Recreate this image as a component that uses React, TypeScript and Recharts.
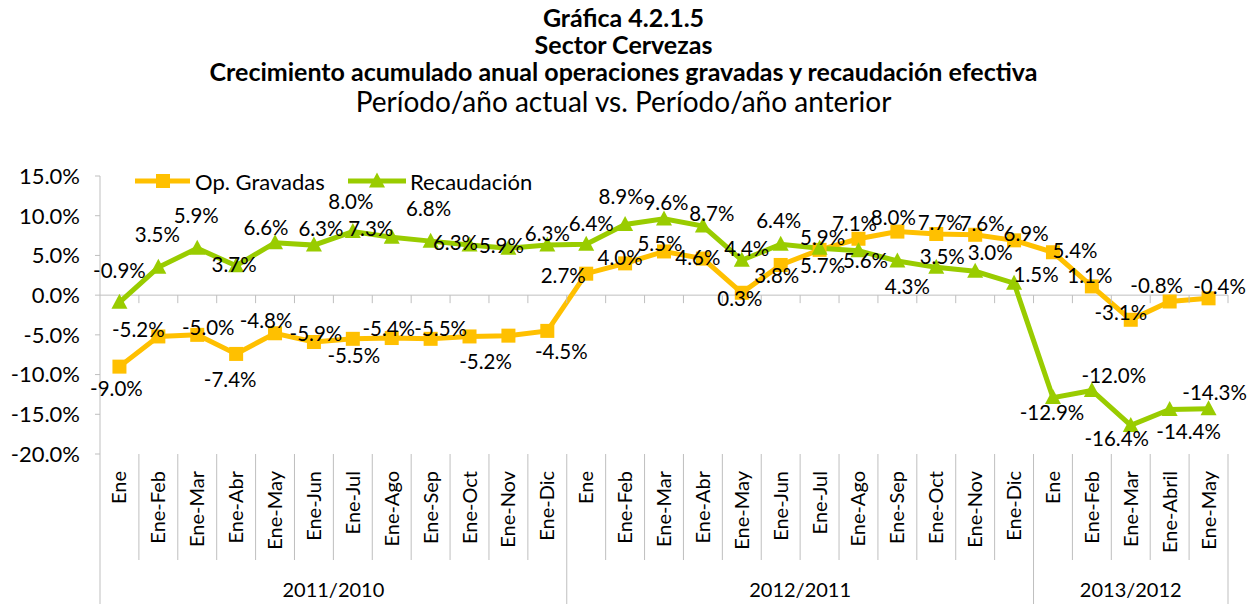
import React from 'react';
import { LineChart, Line, XAxis, YAxis, ReferenceLine, LabelList } from 'recharts';

// ---------- data ----------
const categories = [
  'Ene', 'Ene-Feb', 'Ene-Mar', 'Ene-Abr', 'Ene-May', 'Ene-Jun', 'Ene-Jul', 'Ene-Ago', 'Ene-Sep', 'Ene-Oct', 'Ene-Nov', 'Ene-Dic',
  'Ene', 'Ene-Feb', 'Ene-Mar', 'Ene-Abr', 'Ene-May', 'Ene-Jun', 'Ene-Jul', 'Ene-Ago', 'Ene-Sep', 'Ene-Oct', 'Ene-Nov', 'Ene-Dic',
  'Ene', 'Ene-Feb', 'Ene-Mar', 'Ene-Abril', 'Ene-May',
];
const groupLabels = ['2011/2010', '2012/2011', '2013/2012'];
const groupSizes = [12, 12, 5];
const opGravadas = [
  -9.0, -5.2, -5.0, -7.4, -4.8, -5.9, -5.5, -5.4, -5.5, -5.2, -5.1, -4.5,
  2.7, 4.0, 5.5, 4.6, 0.3, 3.8, 5.7, 7.1, 8.0, 7.7, 7.6, 6.9,
  5.4, 1.1, -3.1, -0.8, -0.4,
];
const recaudacion = [
  -0.9, 3.5, 5.9, 3.7, 6.6, 6.3, 8.0, 7.3, 6.8, 6.3, 5.9, 6.3,
  6.4, 8.9, 9.6, 8.7, 4.4, 6.4, 5.9, 5.6, 4.3, 3.5, 3.0, 1.5,
  -12.9, -12.0, -16.4, -14.4, -14.3,
];
// which data labels are shown (Ene-Nov 2011 of Op. Gravadas has none)
const opLabelShown = opGravadas.map((_, i) => i !== 10);
const yTicks = [-20, -15, -10, -5, 0, 5, 10, 15];
const seriesNames = ['Op. Gravadas', 'Recaudación'];

// ---------- styling / layout ----------
const W = 1247;
const H = 604;
const PLOT_LEFT = 100;
const PLOT_RIGHT = 1228;
const PLOT_TOP = 176;
const PLOT_BOTTOM = 454;
const Y_MIN = -20;
const Y_MAX = 15;
const HALF = (PLOT_RIGHT - PLOT_LEFT) / categories.length / 2;
const ZERO_Y = PLOT_TOP + ((Y_MAX - 0) / (Y_MAX - Y_MIN)) * (PLOT_BOTTOM - PLOT_TOP);
const ORANGE = '#FFC000';
const GREEN = '#99CC00';
const AXIS_GRAY = '#BFBFBF';
const FONT = 'Lato, "Open Sans", sans-serif';
const TICK_FS = 22;
const CAT_FS = 20;
const LEGEND_FS = 22;
const LABEL_FS = 20.5;
const TITLE_FS = 25;
const SUBTITLE_FS = 28;

// label offsets (dx, dy) relative to each point, mimicking manual label placement
const opLabelOffsets: [number, number][] = [
  [-3, 21], [-20, -7], [11, -8], [-6, 25], [-9, -13], [2, -9], [1, 16], [-3, -10], [10, -11], [16, 25], [0, 0], [14, 20],
  [-23, 1], [-5, -6], [-4, -8], [-5, -2], [-2, 5], [-4, 10], [3, 15], [-4, -16], [-4, -15], [4, -12], [7, -12], [12, -7],
  [22, -2], [-2, -11], [-10, -8], [-13, -16], [11, -12],
];
const recLabelOffsets: [number, number][] = [
  [0, -32], [-1, -33], [-1, -33], [-2, -2], [-9, -16], [7, -17], [-2, -31], [-21, -9], [-2, -33], [-14, -3], [-7, -3], [0, -12],
  [5, -21], [-4, -28], [2, -17], [9, -13], [5, -12], [-2, -24], [3, -11], [7, 9], [10, 25], [6, -11], [15, -19], [22, -9],
  [-1, 14], [22, -15], [-14, 13], [19, 21], [6, -17],
];

const data = categories.map((c, i) => ({
  idx: i,
  cat: c,
  op: opGravadas[i],
  rec: recaudacion[i],
}));

const groupStarts: number[] = [];
const groupEnds: number[] = [];
{
  let acc = 0;
  groupSizes.forEach((s) => {
    groupStarts.push(acc);
    acc += s;
    groupEnds.push(acc - 1);
  });
}

const fmt = (v: number) => `${v.toFixed(1)}%`;

const SquareDot = (props: any) => {
  const { cx, cy, index } = props;
  if (cx == null || cy == null) return <g key={`sq-${index}`} />;
  const s = 14;
  return <rect key={`sq-${index}`} x={cx - s / 2} y={cy - s / 2} width={s} height={s} fill={ORANGE} />;
};

const TriangleDot = (props: any) => {
  const { cx, cy, index } = props;
  if (cx == null || cy == null) return <g key={`tr-${index}`} />;
  const w = 16;
  const h = 15;
  return (
    <polygon
      key={`tr-${index}`}
      points={`${cx},${cy - h / 2 - 1} ${cx - w / 2},${cy + h / 2 - 1} ${cx + w / 2},${cy + h / 2 - 1}`}
      fill={GREEN}
    />
  );
};

const makeLabel = (offsets: [number, number][], shown?: boolean[]) => (props: any) => {
  const { x, y, value, index } = props;
  if (x == null || y == null || value == null) return null;
  if (shown && !shown[index]) return null;
  const [dx, dy] = offsets[index] || [0, -20];
  return (
    <text
      x={x + dx}
      y={y + dy}
      textAnchor="middle"
      dominantBaseline="central"
      fontFamily={FONT}
      fontSize={LABEL_FS}
      fill="#000"
    >
      {fmt(Number(value))}
    </text>
  );
};

const CategoryTick = (props: any) => {
  const { x, payload } = props;
  const i = Number(payload.value);
  const label = categories[i];
  const gIdx = groupEnds.indexOf(i);
  const isGroupEnd = gIdx >= 0;
  const sIdx = groupStarts.indexOf(i);
  const els: React.ReactNode[] = [];
  els.push(
    <text
      key="t"
      transform={`translate(${x},${PLOT_BOTTOM + 17}) rotate(-90)`}
      textAnchor="end"
      dy="0.35em"
      fontFamily={FONT}
      fontSize={CAT_FS}
      fill="#000"
    >
      {label}
    </text>
  );
  // separator on the right boundary
  els.push(
    <line
      key="sep"
      x1={x + HALF}
      x2={x + HALF}
      y1={PLOT_BOTTOM}
      y2={isGroupEnd ? H : PLOT_BOTTOM + 106}
      stroke={AXIS_GRAY}
      strokeWidth={1}
    />
  );
  // tick mark on the zero line
  els.push(
    <line key="zt" x1={x + HALF} x2={x + HALF} y1={ZERO_Y} y2={ZERO_Y + 8} stroke={AXIS_GRAY} strokeWidth={1} />
  );
  if (i === 0) {
    els.push(<line key="left" x1={x - HALF} x2={x - HALF} y1={PLOT_BOTTOM} y2={H} stroke={AXIS_GRAY} strokeWidth={1} />);
  }
  if (sIdx >= 0) {
    const size = groupSizes[sIdx];
    const cx = x - HALF + size * HALF;
    els.push(
      <text
        key="g"
        x={cx}
        y={PLOT_BOTTOM + 135}
        textAnchor="middle"
        dominantBaseline="central"
        fontFamily={FONT}
        fontSize={CAT_FS}
        fill="#000"
      >
        {groupLabels[sIdx]}
      </text>
    );
  }
  return <g>{els}</g>;
};

const Overlay = () => (
  <svg
    width={W}
    height={H}
    style={{ position: 'absolute', left: 0, top: 0, pointerEvents: 'none' }}
  >
    <g fontFamily={FONT} fill="#000" textAnchor="middle">
      <text x={W / 2} y={17} dominantBaseline="central" fontSize={TITLE_FS} fontWeight="bold">
        Gráfica 4.2.1.5
      </text>
      <text x={W / 2} y={44} dominantBaseline="central" fontSize={TITLE_FS} fontWeight="bold">
        Sector Cervezas
      </text>
      <text x={W / 2} y={71} dominantBaseline="central" fontSize={TITLE_FS} fontWeight="bold">
        Crecimiento acumulado anual operaciones gravadas y recaudación efectiva
      </text>
      <text x={W / 2} y={101} dominantBaseline="central" fontSize={SUBTITLE_FS}>
        Período/año actual vs. Período/año anterior
      </text>
    </g>
    {/* legend */}
    <g>
      <line x1={135} x2={190} y1={181} y2={181} stroke={ORANGE} strokeWidth={5} />
      <rect x={156} y={174} width={14} height={14} fill={ORANGE} />
      <text x={195} y={181} dominantBaseline="central" fontFamily={FONT} fontSize={LEGEND_FS} fill="#000">
        {seriesNames[0]}
      </text>
      <line x1={348} x2={406} y1={181} y2={181} stroke={GREEN} strokeWidth={5} />
      <polygon points={`377,172.5 369,187.5 385,187.5`} fill={GREEN} />
      <text x={410} y={181} dominantBaseline="central" fontFamily={FONT} fontSize={LEGEND_FS} fill="#000">
        {seriesNames[1]}
      </text>
    </g>
  </svg>
);

export default function App() {
  return (
    <div style={{ position: 'absolute', left: 0, top: 0, width: W, height: H, background: '#fff' }}>
      <LineChart
        width={W}
        height={H}
        data={data}
        margin={{ top: PLOT_TOP, right: W - PLOT_RIGHT, bottom: 0, left: 0 }}
      >
        <XAxis
          dataKey="idx"
          type="category"
          interval={0}
          height={H - PLOT_BOTTOM}
          padding={{ left: HALF, right: HALF }}
          axisLine={false}
          tickLine={false}
          tick={<CategoryTick />}
        />
        <YAxis
          width={PLOT_LEFT}
          domain={[Y_MIN, Y_MAX]}
          ticks={yTicks}
          interval={0}
          allowDataOverflow
          tickFormatter={fmt}
          tickSize={5}
          tickMargin={15}
          axisLine={{ stroke: AXIS_GRAY }}
          tickLine={{ stroke: AXIS_GRAY }}
          tick={{ fill: '#000', fontSize: TICK_FS, fontFamily: FONT }}
        />
        <ReferenceLine y={0} stroke={AXIS_GRAY} strokeWidth={1} />
        <Line
          type="linear"
          dataKey="op"
          name={seriesNames[0]}
          stroke={ORANGE}
          strokeWidth={5}
          dot={SquareDot}
          activeDot={false}
          isAnimationActive={false}
        >
          <LabelList dataKey="op" content={makeLabel(opLabelOffsets, opLabelShown)} />
        </Line>
        <Line
          type="linear"
          dataKey="rec"
          name={seriesNames[1]}
          stroke={GREEN}
          strokeWidth={5}
          dot={TriangleDot}
          activeDot={false}
          isAnimationActive={false}
        >
          <LabelList dataKey="rec" content={makeLabel(recLabelOffsets)} />
        </Line>
      </LineChart>
      <Overlay />
    </div>
  );
}
